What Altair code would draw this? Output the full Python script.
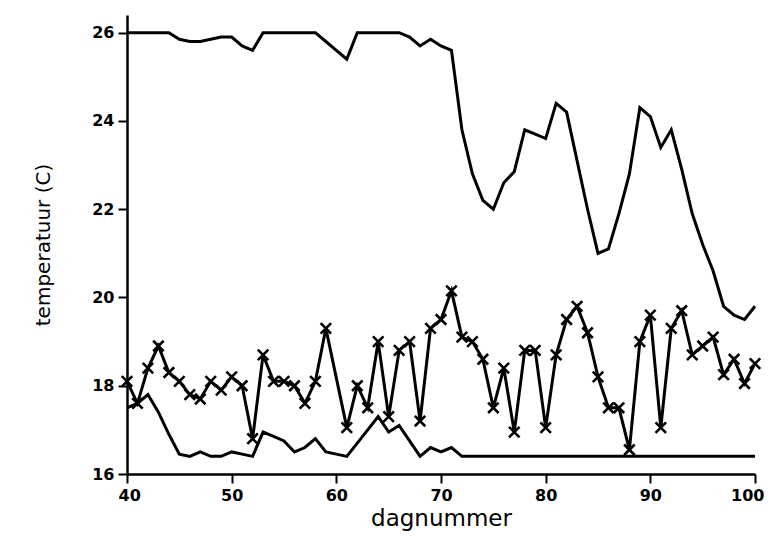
import altair as alt
import pandas as pd

days = list(range(40, 101))

# bovenste lijn (zonder markers)
top_temp = [26.0, 26.0, 26.0, 26.0, 26.0, 25.85, 25.8, 25.8, 25.85, 25.9,
            25.9, 25.7, 25.6, 26.0, 26.0, 26.0, 26.0, 26.0, 26.0, 25.8,
            25.6, 25.4, 26.0, 26.0, 26.0, 26.0, 26.0, 25.9, 25.7, 25.85,
            25.7, 25.6, 23.8, 22.8, 22.2, 22.0, 22.6, 22.85, 23.8, 23.7,
            23.6, 24.4, 24.2, 23.1, 22.0, 21.0, 21.1, 21.9, 22.8, 24.3,
            24.1, 23.4, 23.8, 22.9, 21.9, 21.2, 20.6, 19.8, 19.6, 19.5,
            19.8]

# middelste lijn (met x-markers), dag 60 ontbreekt
mid_temp = [18.1, 17.6, 18.4, 18.9, 18.3, 18.1, 17.8, 17.7, 18.1, 17.9,
            18.2, 18.0, 16.8, 18.7, 18.1, 18.1, 18.0, 17.6, 18.1, 19.3,
            None, 17.05, 18.0, 17.5, 19.0, 17.3, 18.8, 19.0, 17.2, 19.3,
            19.5, 20.15, 19.1, 19.0, 18.6, 17.5, 18.4, 16.95, 18.8, 18.8,
            17.05, 18.7, 19.5, 19.8, 19.2, 18.2, 17.5, 17.5, 16.55, 19.0,
            19.6, 17.05, 19.3, 19.7, 18.7, 18.9, 19.1, 18.25, 18.6, 18.05,
            18.5]

# onderste lijn (zonder markers)
low_temp = [17.5, 17.6, 17.8, 17.4, 16.9, 16.45, 16.4, 16.5, 16.4, 16.4,
            16.5, 16.45, 16.4, 16.95, 16.85, 16.75, 16.5, 16.6, 16.8, 16.5,
            16.45, 16.4, 16.7, 17.0, 17.3, 16.95, 17.1, 16.75, 16.4, 16.6,
            16.5, 16.6, 16.4, 16.4, 16.4, 16.4, 16.4, 16.4, 16.4, 16.4,
            16.4, 16.4, 16.4, 16.4, 16.4, 16.4, 16.4, 16.4, 16.4, 16.4,
            16.4, 16.4, 16.4, 16.4, 16.4, 16.4, 16.4, 16.4, 16.4, 16.4,
            16.4]

x_ticks = [40, 50, 60, 70, 80, 90, 100]
y_ticks = [16, 18, 20, 22, 24, 26]

rows = []
for d, a, b, c in zip(days, top_temp, mid_temp, low_temp):
    rows.append({"dag": d, "serie": "boven", "temp": a})
    if b is not None:
        rows.append({"dag": d, "serie": "midden", "temp": b})
    rows.append({"dag": d, "serie": "onder", "temp": c})
df = pd.DataFrame(rows)

x_enc = alt.X("dag:Q", scale=alt.Scale(domain=[40, 100], nice=False, zero=False),
              axis=alt.Axis(values=x_ticks, title="dagnummer", titleFontSize=23,
                            titleFontWeight="normal", titlePadding=4,
                            labelFlush=True, labelFlushOffset=9,
                            tickSize=9, labelPadding=4))
y_enc = alt.Y("temp:Q", scale=alt.Scale(domain=[16, 26.4], nice=False, zero=False),
              axis=alt.Axis(values=y_ticks, title="temperatuur (C)", titleFontSize=20,
                            titleFontWeight="normal", titlePadding=38))

lines = alt.Chart(df).mark_line(color="black", strokeWidth=3, strokeJoin="miter").encode(
    x=x_enc, y=y_enc, detail="serie:N")

points = alt.Chart(df).transform_filter(alt.datum.serie == "midden").mark_point(
    shape="M-1,-1L1,1M-1,1L1,-1", size=110, stroke="black", strokeWidth=2.6,
    filled=False, opacity=1).encode(x=x_enc, y=y_enc)

chart = (lines + points).properties(
    width=628, height=459,
    autosize=alt.AutoSizeParams(type="none"),
    padding={"left": 119, "top": 7, "right": 10, "bottom": 58},
).configure_view(stroke=None).configure_axis(
    grid=False, domainColor="black", domainWidth=2.5, tickColor="black",
    tickWidth=2, tickSize=9, labelColor="black", labelFont="DejaVu Sans",
    labelFontWeight="bold", labelFontSize=16, labelPadding=4,
    titleColor="black", titleFont="DejaVu Sans",
)

chart.save("out.html", embed_options={"renderer": "svg", "actions": False})
